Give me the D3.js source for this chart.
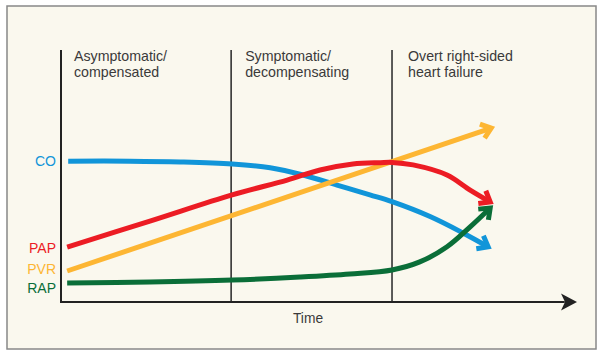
<!DOCTYPE html>
<html><head><meta charset="utf-8">
<script src="https://cdn.jsdelivr.net/npm/d3@7"></script>
<style>body{margin:0;background:#fff}svg{display:block}</style>
</head><body>
<svg id="c" width="600" height="355"></svg>
<script>
// ---- data (x: time 0-100, y: relative level 0-100) ----
const stageBounds = [0, 33.1, 64.4];
const stageLabels = [["Asymptomatic/","compensated"],["Symptomatic/","decompensating"],["Overt right-sided","heart failure"]];
const seriesNames = ["CO","PAP","PVR","RAP"];
const seriesColors = ["#1195d9","#ec1c24","#fdb633","#0a6e38"];
const coX  = [1.4, 13.4, 23.2, 33.3, 40.7, 47.1, 53.7, 60.1, 64.4, 71.8, 78.2, 83.1];
const coY  = [55.9, 55.9, 55.6, 54.8, 53.3, 50.4, 46.4, 42.5, 39.8, 33.9, 27.4, 21.9];
const papX = [1.2, 17.3, 33.3, 44.0, 50.4, 56.8, 62.1, 64.4, 68.5, 75.1, 79.6, 83.5];
const papY = [21.8, 32.1, 42.5, 48.4, 52.4, 54.8, 55.3, 55.4, 54.4, 50.4, 44.4, 39.7];
const pvrX = [1.2, 83.7];
const pvrY = [12.3, 69.0];
const rapX = [1.2, 17.3, 33.3, 46.5, 56.2, 64.4, 69.8, 75.1, 79.6, 83.5];
const rapY = [7.5, 7.9, 8.7, 9.9, 11.1, 12.7, 15.9, 21.9, 29.8, 37.3];
const axisLabel = "Time";

const svg = d3.select("#c");
const x = d3.scaleLinear().domain([0,100]).range([61,575]);
const y = d3.scaleLinear().domain([0,100]).range([302,50]);

// frame
svg.append("rect").attr("x",7).attr("y",6).attr("width",589).attr("height",343)
  .attr("fill","#faf8ee").attr("stroke","#888").attr("stroke-width",1.5);

// stage dividers
stageBounds.slice(1).forEach(b=>{
  svg.append("line").attr("x1",x(b)).attr("x2",x(b)).attr("y1",y(100)).attr("y2",y(0))
    .attr("stroke","#333").attr("stroke-width",1.6);
});
// stage labels
const labOff=[13,14,16];
stageLabels.forEach((lines,i)=>{
  const t=svg.append("text").attr("x",x(stageBounds[i])+labOff[i]).attr("y",60.5)
    .attr("font-family","Liberation Sans, Arial, sans-serif").attr("font-size",14.2).attr("fill","#3a3a3a");
  lines.forEach((l,j)=>t.append("tspan").attr("x",x(stageBounds[i])+labOff[i]).attr("y",60.5+16.5*j).text(l));
});

// axes
svg.append("line").attr("x1",x(0)).attr("x2",x(0)).attr("y1",y(100)).attr("y2",y(0)+1)
  .attr("stroke","#222").attr("stroke-width",2);
svg.append("line").attr("x1",x(0)-1).attr("x2",x(98)).attr("y1",y(0)).attr("y2",y(0))
  .attr("stroke","#222").attr("stroke-width",2);
const tipX=x(100)+2, ay=y(0);
svg.append("path").attr("d",`M${tipX},${ay} L${tipX-16},${ay-8.5} L${tipX-12},${ay} L${tipX-16},${ay+8.5} Z`).attr("fill","#222");
svg.append("text").attr("x",308).attr("y",322.5).attr("text-anchor","middle")
  .attr("font-family","Liberation Sans, Arial, sans-serif").attr("font-size",13.8).attr("fill","#3a3a3a").text(axisLabel);

// series
const series = [[coX,coY],[papX,papY],[pvrX,pvrY],[rapX,rapY]];
const line = d3.line().x(d=>x(d[0])).y(d=>y(d[1])).curve(d3.curveCatmullRom.alpha(0.5));
[0,2,1,3].forEach(i=>{
  const [xs,ys]=series[i];
  const pts=xs.map((v,k)=>[v,ys[k]]);
  svg.append("path").attr("d",line(pts)).attr("fill","none").attr("stroke",seriesColors[i])
    .attr("stroke-width",5);
  const n=pts.length;
  const x1=x(pts[n-2][0]), y1=y(pts[n-2][1]), x2=x(pts[n-1][0]), y2=y(pts[n-1][1]);
  const a=Math.atan2(y2-y1,x2-x1);
  const L=12, sp=38*Math.PI/180;
  const p1=[x2-L*Math.cos(a-sp), y2-L*Math.sin(a-sp)];
  const p2=[x2-L*Math.cos(a+sp), y2-L*Math.sin(a+sp)];
  svg.append("path").attr("d",`M${p1[0]},${p1[1]} L${x2},${y2} L${p2[0]},${p2[1]}`)
    .attr("fill","none").attr("stroke",seriesColors[i]).attr("stroke-width",5)
    .attr("stroke-linejoin","miter").attr("stroke-miterlimit",10);
});

// series labels
const labelYOff=[0,1,-2,5];
seriesNames.forEach((nm,i)=>{
  svg.append("text").attr("x",56).attr("y",y(series[i][1][0])+labelYOff[i]).attr("dy","0.36em")
    .attr("text-anchor","end").attr("font-family","Liberation Sans, Arial, sans-serif")
    .attr("font-size",14).attr("fill",seriesColors[i]).text(nm);
});
</script>
</body></html>
